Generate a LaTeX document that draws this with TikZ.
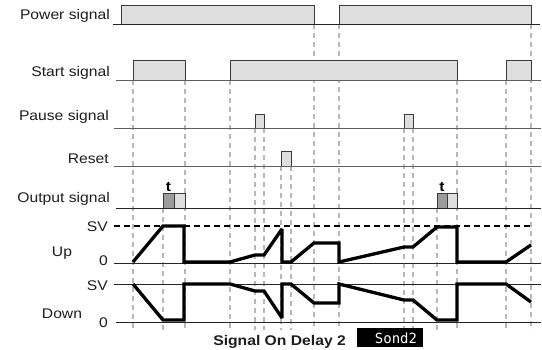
\documentclass[tikz,border=0pt]{standalone}
\usepackage{fontspec}
\setmainfont{Liberation Sans}[FakeStretch=1.12]
\newfontfamily\segfont{DejaVu Sans Mono}
\definecolor{boxfill}{HTML}{DEDEDE}
\definecolor{outline}{HTML}{3A3A3A}
\definecolor{dashgrey}{HTML}{B8B8B8}
\definecolor{darkpulse}{HTML}{9C9C9C}
\definecolor{basegrey}{HTML}{606060}
\definecolor{txt}{HTML}{1E1E1E}
\begin{document}
\begin{tikzpicture}[x=1pt,y=-1pt,
  lbl/.style={anchor=base east, font=\fontsize{14}{16}\selectfont, inner sep=0pt, text=txt},
  clbl/.style={anchor=base, font=\fontsize{14}{16}\selectfont, inner sep=0pt, text=txt},
  sig/.style={draw=outline, fill=boxfill, line width=0.9pt},
  baseln/.style={draw=#1, line width=1pt},
  baseln/.default=black!85,
  guide/.style={draw=dashgrey, line width=1.4pt, dash pattern=on 5pt off 4pt},
  curve/.style={line width=3.3pt, line join=miter, miter limit=3},
  svline/.style={line width=1.8pt, dash pattern=on 6pt off 4pt},
  tlbl/.style={anchor=base, font=\bfseries\fontsize{14}{16}\selectfont, inner sep=0pt}
]
\useasboundingbox (0,0) rectangle (542,349);
\fill[white] (0,0) rectangle (542,349);

% guide lines
\foreach \x/\y in {133/80,163/208,185/80,230/80,255/128,264/128,281/166,291/166,314/24,339/24,404/128,413/128,437/208,457/80,506/80,531/24}
  \draw[guide] (\x,\y) -- (\x,330);

% labels
\node[lbl] (lpower) at (110,19.5) {Power signal};
\node[lbl] (lstart) at (110,76) {Start signal};
\node[lbl] (lpause) at (109,120.5) {Pause signal};
\node[lbl] (lreset) at (109,163) {Reset};
\node[lbl] (lout) at (110,202) {Output signal};
\node[lbl] (lsvu) at (108,231.5) {SV};
\node[lbl] (lzu) at (108,265) {0};
\node[clbl] (lup) at (62,256.5) {Up};
\node[lbl] (lsvd) at (108,290) {SV};
\node[lbl] (lzd) at (108,327) {0};
\node[clbl] (ldown) at (62,318) {Down};

% power signal
\draw[sig] (121,24) rectangle (314,5);
\draw[sig] (339,24) rectangle (531,5);
\draw[baseln] (113,24) -- (540,24);

% start signal
\draw[sig] (133,80) rectangle (185,60);
\draw[sig] (230,80) rectangle (457,60);
\draw[sig] (506,80) rectangle (531,60);
\draw[baseln=basegrey] (116,80) -- (541,80);

% pause signal
\draw[sig] (255,128) rectangle (264,114);
\draw[sig] (404,128) rectangle (413,114);
\draw[baseln=basegrey] (114,128) -- (541,128);

% reset
\draw[sig] (281,166) rectangle (291,151);
\draw[baseln=basegrey] (114,166) -- (541,166);

% output signal
\draw[sig, fill=darkpulse] (163,208) rectangle (174,193);
\draw[sig] (174,208) rectangle (185,193);
\draw[sig, fill=darkpulse] (437,208) rectangle (447,193);
\draw[sig] (447,208) rectangle (457,193);
\draw[baseln] (116,208) -- (541,208);
\node[tlbl] (t1) at (168.5,191.5) {t};
\node[tlbl] (t2) at (442,191.5) {t};

% axes
\draw[svline] (114,226) -- (532,226);
\draw[baseln] (114,263) -- (541,263);
\draw[baseln] (114,284) -- (541,284);
\draw[baseln] (116,322) -- (541,322);

% up curve
\draw[curve] (133,262) -- (163,226) -- (184,226) -- (184,262) -- (230,262) -- (255,255) -- (264,255) -- (282,229) -- (282,262) -- (291,262) -- (314,243) -- (339,243) -- (339,262) -- (404,247) -- (413,247) -- (437,227) -- (457,227) -- (457,262) -- (506,262) -- (531,245);

% down curve
\draw[curve] (133,284) -- (163,320) -- (184,320) -- (184,284) -- (230,284) -- (255,291) -- (264,291) -- (282,318) -- (282,284) -- (291,284) -- (314,303) -- (339,303) -- (339,284) -- (404,300) -- (413,300) -- (437,320) -- (457,320) -- (457,284) -- (506,284) -- (531,302);

% title
\node[anchor=base east, font=\bfseries\fontsize{14}{16}\selectfont, inner sep=0pt, text=txt] (title) at (346,345) {Signal On Delay 2};
\fill[black] (357,328) rectangle (423,347);
\node[font=\segfont\fontsize{14}{16}\selectfont, text=white, inner sep=0pt] (disp) at (396,338) {Sond2};
\end{tikzpicture}
\end{document}
